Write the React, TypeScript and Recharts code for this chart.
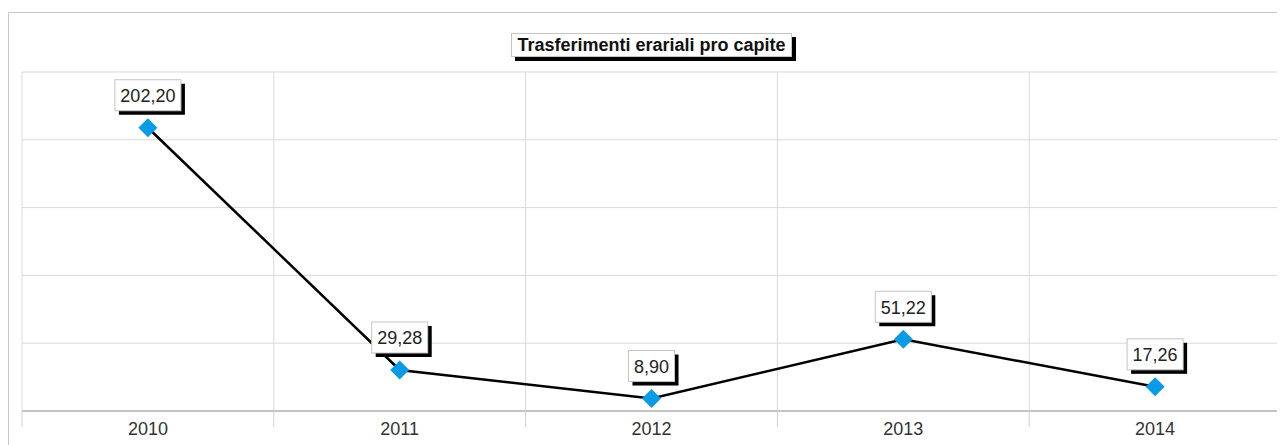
import React from "react";
import {
  CartesianGrid,
  LabelList,
  Line,
  LineChart,
  XAxis,
  YAxis
} from "recharts";

const years = ["2010", "2011", "2012", "2013", "2014"];
const transfers = [202.2, 29.28, 8.9, 51.22, 17.26];
const yTicks = [0, 48.4, 96.8, 145.2, 193.6, 242];
const slotEdges = [-0.5, 0.5, 1.5, 2.5, 3.5, 4.5];

const data = years.map((year, i) => ({ idx: i, year, value: transfers[i] }));

const FONT = '"Liberation Sans", Arial, sans-serif';
const LABEL_SIZE = 18;

const fmt = (v: number) => v.toFixed(2).replace(".", ",");

function textWidth(s: string, size: number) {
  let w = 0;
  for (const ch of s) w += ch === "," ? 0.278 : 0.556;
  return w * size;
}

function EmptyTick() {
  return <g />;
}

function Diamond(props: any) {
  const { cx, cy, index } = props;
  if (cx == null || cy == null) return null;
  const r = 9.5;
  return (
    <polygon
      key={`d-${index}`}
      points={`${cx},${cy - r} ${cx + r},${cy} ${cx},${cy + r} ${cx - r},${cy}`}
      fill="#0a9be6"
    />
  );
}

function ValueBadge(props: any) {
  const { x, y, value, index } = props;
  if (x == null || y == null) return null;
  const text = fmt(Number(value));
  const w = textWidth(text, LABEL_SIZE) + 11;
  const h = 31;
  const bx = x - w / 2;
  const by = y - 17 - h;
  return (
    <g key={`b-${index}`}>
      <rect x={bx + 4} y={by + 4} width={w} height={h} fill="#000" />
      <rect x={bx} y={by} width={w} height={h} fill="#fff" stroke="#c4c4c4" />
      <text
        x={x}
        y={by + h / 2 + 1}
        textAnchor="middle"
        dominantBaseline="central"
        fontFamily={FONT}
        fontSize={LABEL_SIZE}
        fill="#222"
      >
        {text}
      </text>
    </g>
  );
}

export default function App() {
  return (
    <div style={{ position: "relative", width: 1277, height: 437, fontFamily: FONT }}>
      <div
        style={{
          position: "absolute",
          left: 0,
          top: 4,
          width: 1300,
          height: 500,
          borderTop: "1px solid #c8c8c8",
          borderLeft: "1px solid #c8c8c8",
          boxSizing: "border-box"
        }}
      />
      <LineChart
        width={1277}
        height={437}
        data={data}
        margin={{ top: 64, right: 4, bottom: 4, left: 14 }}
        style={{ position: "absolute", left: 0, top: 0 }}
      >
        <CartesianGrid
          xAxisId="grid"
          stroke="#d9d9d9"
          strokeWidth={1}
          verticalCoordinatesGenerator={({ xAxis, offset }: any) =>
            slotEdges.map((e) =>
              xAxis && typeof xAxis.scale === "function"
                ? xAxis.scale(e)
                : offset.left + ((e + 0.5) / years.length) * offset.width
            )
          }
        />
        <XAxis
          xAxisId="grid"
          dataKey="idx"
          type="number"
          domain={[-0.5, 4.5]}
          ticks={slotEdges}
          interval={0}
          height={1}
          tick={EmptyTick}
          tickSize={16}
          tickLine={{ stroke: "#d0d0d0" }}
          axisLine={{ stroke: "#c4c4c4", strokeWidth: 2 }}
        />
        <XAxis
          xAxisId="year"
          dataKey="idx"
          type="number"
          domain={[-0.5, 4.5]}
          ticks={data.map((d) => d.idx)}
          interval={0}
          height={29}
          tickFormatter={(i: number) => years[i]}
          tickLine={false}
          axisLine={false}
          tickSize={6}
          tickMargin={4}
          tick={{ fill: "#333", fontSize: 18, fontFamily: FONT }}
        />
        <YAxis hide domain={[0, 242]} ticks={yTicks} type="number" />
        <Line
          xAxisId="year"
          type="linear"
          dataKey="value"
          stroke="#000"
          strokeWidth={2.5}
          dot={Diamond}
          activeDot={false}
          isAnimationActive={false}
        >
          <LabelList dataKey="value" content={ValueBadge} />
        </Line>
      </LineChart>
      <div
        style={{
          position: "absolute",
          left: 503,
          top: 25,
          width: 279,
          height: 22,
          background: "#fff",
          border: "1px solid #c4c4c4",
          boxShadow: "4px 4px 0 #000",
          fontWeight: "bold",
          fontSize: 18,
          lineHeight: "22px",
          textAlign: "center",
          color: "#111",
          boxSizing: "content-box"
        }}
      >
        Trasferimenti erariali pro capite
      </div>
    </div>
  );
}
